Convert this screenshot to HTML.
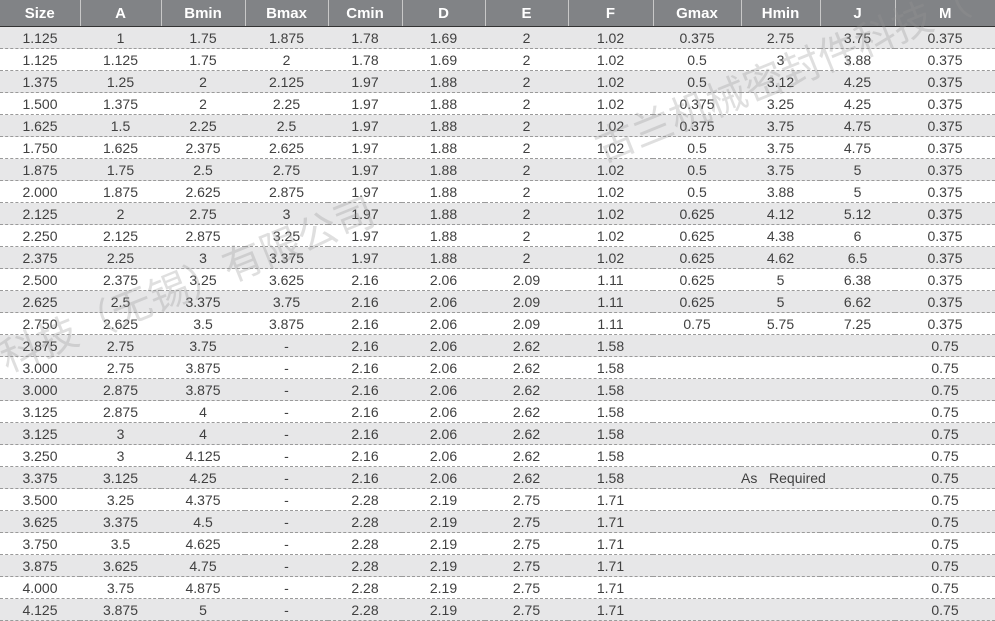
<!DOCTYPE html>
<html><head><meta charset="utf-8"><style>
html,body{margin:0;padding:0;background:#fff;}
body{width:995px;height:621px;overflow:hidden;position:relative;font-family:"Liberation Sans","Noto Sans CJK SC",sans-serif;}
table{position:absolute;left:0;top:0;border-collapse:collapse;table-layout:fixed;width:995px;}
th{background:#818386;color:#fff;font-weight:bold;font-size:15px;height:26px;padding:0;border-left:1px solid #c8c8c8;border-bottom:1px solid #333;}
th:first-child{border-left:none;}
td{height:21px;padding:0;text-align:center;font-size:14px;color:#404040;border-bottom:1px dashed #9a9a9a;white-space:nowrap;font-family:"Liberation Sans",sans-serif;}
tr:nth-child(odd) td{background:#e7e7e8;}
.wm{position:absolute;color:rgba(150,150,150,0.3);font-size:40px;white-space:nowrap;font-family:"Noto Sans CJK SC",sans-serif;transform-origin:0 0;}
</style></head><body>
<table>
<colgroup><col style="width:80px"><col style="width:81px"><col style="width:84px"><col style="width:83px"><col style="width:74px"><col style="width:83px"><col style="width:83px"><col style="width:85px"><col style="width:88px"><col style="width:79px"><col style="width:75px"><col style="width:100px"></colgroup>
<thead><tr><th>Size</th><th>A</th><th>Bmin</th><th>Bmax</th><th>Cmin</th><th>D</th><th>E</th><th>F</th><th>Gmax</th><th>Hmin</th><th>J</th><th>M</th></tr></thead>
<tbody>
<tr><td>1.125</td><td>1</td><td>1.75</td><td>1.875</td><td>1.78</td><td>1.69</td><td>2</td><td>1.02</td><td>0.375</td><td>2.75</td><td>3.75</td><td>0.375</td></tr>
<tr><td>1.125</td><td>1.125</td><td>1.75</td><td>2</td><td>1.78</td><td>1.69</td><td>2</td><td>1.02</td><td>0.5</td><td>3</td><td>3.88</td><td>0.375</td></tr>
<tr><td>1.375</td><td>1.25</td><td>2</td><td>2.125</td><td>1.97</td><td>1.88</td><td>2</td><td>1.02</td><td>0.5</td><td>3.12</td><td>4.25</td><td>0.375</td></tr>
<tr><td>1.500</td><td>1.375</td><td>2</td><td>2.25</td><td>1.97</td><td>1.88</td><td>2</td><td>1.02</td><td>0.375</td><td>3.25</td><td>4.25</td><td>0.375</td></tr>
<tr><td>1.625</td><td>1.5</td><td>2.25</td><td>2.5</td><td>1.97</td><td>1.88</td><td>2</td><td>1.02</td><td>0.375</td><td>3.75</td><td>4.75</td><td>0.375</td></tr>
<tr><td>1.750</td><td>1.625</td><td>2.375</td><td>2.625</td><td>1.97</td><td>1.88</td><td>2</td><td>1.02</td><td>0.5</td><td>3.75</td><td>4.75</td><td>0.375</td></tr>
<tr><td>1.875</td><td>1.75</td><td>2.5</td><td>2.75</td><td>1.97</td><td>1.88</td><td>2</td><td>1.02</td><td>0.5</td><td>3.75</td><td>5</td><td>0.375</td></tr>
<tr><td>2.000</td><td>1.875</td><td>2.625</td><td>2.875</td><td>1.97</td><td>1.88</td><td>2</td><td>1.02</td><td>0.5</td><td>3.88</td><td>5</td><td>0.375</td></tr>
<tr><td>2.125</td><td>2</td><td>2.75</td><td>3</td><td>1.97</td><td>1.88</td><td>2</td><td>1.02</td><td>0.625</td><td>4.12</td><td>5.12</td><td>0.375</td></tr>
<tr><td>2.250</td><td>2.125</td><td>2.875</td><td>3.25</td><td>1.97</td><td>1.88</td><td>2</td><td>1.02</td><td>0.625</td><td>4.38</td><td>6</td><td>0.375</td></tr>
<tr><td>2.375</td><td>2.25</td><td>3</td><td>3.375</td><td>1.97</td><td>1.88</td><td>2</td><td>1.02</td><td>0.625</td><td>4.62</td><td>6.5</td><td>0.375</td></tr>
<tr><td>2.500</td><td>2.375</td><td>3.25</td><td>3.625</td><td>2.16</td><td>2.06</td><td>2.09</td><td>1.11</td><td>0.625</td><td>5</td><td>6.38</td><td>0.375</td></tr>
<tr><td>2.625</td><td>2.5</td><td>3.375</td><td>3.75</td><td>2.16</td><td>2.06</td><td>2.09</td><td>1.11</td><td>0.625</td><td>5</td><td>6.62</td><td>0.375</td></tr>
<tr><td>2.750</td><td>2.625</td><td>3.5</td><td>3.875</td><td>2.16</td><td>2.06</td><td>2.09</td><td>1.11</td><td>0.75</td><td>5.75</td><td>7.25</td><td>0.375</td></tr>
<tr><td>2.875</td><td>2.75</td><td>3.75</td><td>-</td><td>2.16</td><td>2.06</td><td>2.62</td><td>1.58</td><td></td><td></td><td></td><td>0.75</td></tr>
<tr><td>3.000</td><td>2.75</td><td>3.875</td><td>-</td><td>2.16</td><td>2.06</td><td>2.62</td><td>1.58</td><td></td><td></td><td></td><td>0.75</td></tr>
<tr><td>3.000</td><td>2.875</td><td>3.875</td><td>-</td><td>2.16</td><td>2.06</td><td>2.62</td><td>1.58</td><td></td><td></td><td></td><td>0.75</td></tr>
<tr><td>3.125</td><td>2.875</td><td>4</td><td>-</td><td>2.16</td><td>2.06</td><td>2.62</td><td>1.58</td><td></td><td></td><td></td><td>0.75</td></tr>
<tr><td>3.125</td><td>3</td><td>4</td><td>-</td><td>2.16</td><td>2.06</td><td>2.62</td><td>1.58</td><td></td><td></td><td></td><td>0.75</td></tr>
<tr><td>3.250</td><td>3</td><td>4.125</td><td>-</td><td>2.16</td><td>2.06</td><td>2.62</td><td>1.58</td><td></td><td></td><td></td><td>0.75</td></tr>
<tr><td>3.375</td><td>3.125</td><td>4.25</td><td>-</td><td>2.16</td><td>2.06</td><td>2.62</td><td>1.58</td><td></td><td style="overflow:visible">As&nbsp;&nbsp;&nbsp;Required</td><td></td><td>0.75</td></tr>
<tr><td>3.500</td><td>3.25</td><td>4.375</td><td>-</td><td>2.28</td><td>2.19</td><td>2.75</td><td>1.71</td><td></td><td></td><td></td><td>0.75</td></tr>
<tr><td>3.625</td><td>3.375</td><td>4.5</td><td>-</td><td>2.28</td><td>2.19</td><td>2.75</td><td>1.71</td><td></td><td></td><td></td><td>0.75</td></tr>
<tr><td>3.750</td><td>3.5</td><td>4.625</td><td>-</td><td>2.28</td><td>2.19</td><td>2.75</td><td>1.71</td><td></td><td></td><td></td><td>0.75</td></tr>
<tr><td>3.875</td><td>3.625</td><td>4.75</td><td>-</td><td>2.28</td><td>2.19</td><td>2.75</td><td>1.71</td><td></td><td></td><td></td><td>0.75</td></tr>
<tr><td>4.000</td><td>3.75</td><td>4.875</td><td>-</td><td>2.28</td><td>2.19</td><td>2.75</td><td>1.71</td><td></td><td></td><td></td><td>0.75</td></tr>
<tr><td>4.125</td><td>3.875</td><td>5</td><td>-</td><td>2.28</td><td>2.19</td><td>2.75</td><td>1.71</td><td></td><td></td><td></td><td>0.75</td></tr>
</tbody></table>
<div class="wm" style="left:-10px;top:330px;transform:rotate(-22deg);">科技（无锡）有限公司</div>
<div class="wm" style="left:585px;top:120px;transform:rotate(-22deg);">古兰机械密封件科技（</div>
</body></html>
